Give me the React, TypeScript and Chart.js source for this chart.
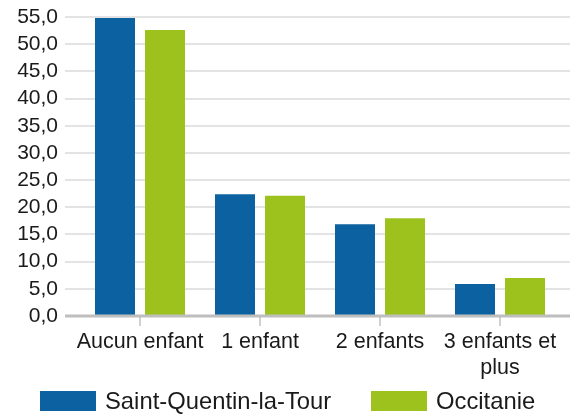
import React, { useEffect, useRef } from "react";
import { Chart, registerables } from "chart.js";

Chart.register(...registerables);

const categories: (string | string[])[] = ["Aucun enfant", "1 enfant", "2 enfants", ["3 enfants et", "plus"]];
const seriesNames = ["Saint-Quentin-la-Tour", "Occitanie"];
const stQuentin = [54.8, 22.4, 16.9, 5.9];
const occitanie = [52.6, 22.1, 18.0, 7.0];
const yTicks = [0, 5, 10, 15, 20, 25, 30, 35, 40, 45, 50, 55];

const BLUE = "#0c62a0";
const GREEN = "#9dc21e";
const COLORS = [BLUE, GREEN];
const FONT = "'Liberation Sans', Arial, sans-serif";

const gridPlugin = {
  id: "customGrid",
  beforeDatasetsDraw(chart: any) {
    const { ctx, scales, width } = chart;
    const y = scales.y;
    const left = 65;
    ctx.save();
    ctx.strokeStyle = "#e3e3e3";
    ctx.lineWidth = 2;
    for (const v of yTicks) {
      if (v === 0) continue;
      const py = Math.round(y.getPixelForValue(v));
      ctx.beginPath();
      ctx.moveTo(left, py);
      ctx.lineTo(width, py);
      ctx.stroke();
    }
    ctx.restore();
  },
  afterDatasetsDraw(chart: any) {
    const { ctx, scales, width } = chart;
    const y = scales.y;
    const x = scales.x;
    const left = 65;
    const py = y.getPixelForValue(0);
    ctx.save();
    ctx.strokeStyle = "#d0d0d0";
    ctx.lineWidth = 2;
    for (let i = 0; i < categories.length; i++) {
      const px = Math.round(x.getPixelForValue(i));
      ctx.beginPath();
      ctx.moveTo(px, py);
      ctx.lineTo(px, py + 10);
      ctx.stroke();
    }
    ctx.strokeStyle = "#bebebe";
    ctx.lineWidth = 3;
    ctx.beginPath();
    ctx.moveTo(left, py);
    ctx.lineTo(width, py);
    ctx.stroke();
    ctx.restore();
  },
};

export default function App() {
  const ref = useRef<HTMLCanvasElement>(null);
  useEffect(() => {
    document.body.style.margin = "0";
    const chart = new Chart(ref.current!, {
      type: "bar",
      data: {
        labels: categories,
        datasets: [
          { label: seriesNames[0], data: stQuentin, backgroundColor: BLUE, borderWidth: 0 },
          { label: seriesNames[1], data: occitanie, backgroundColor: GREEN, borderWidth: 0 },
        ],
      },
      options: {
        animation: false,
        responsive: false,
        devicePixelRatio: 1,
        layout: { padding: { top: 17, right: 10, left: 0, bottom: 29 } },
        datasets: { bar: { categoryPercentage: 100 / 120, barPercentage: 0.8 } },
        scales: {
          x: {
            grid: { display: false, drawTicks: false },
            border: { display: false },
            afterFit(scale: any) {
              scale.height = 70;
              scale.paddingLeft = 0;
              scale.paddingRight = 0;
            },
            ticks: { color: "#1a1a1a", font: { family: FONT, size: 21.5 }, padding: 13, maxRotation: 0, autoSkip: false },
          },
          y: {
            min: 0,
            max: 55,
            afterBuildTicks(scale: any) {
              scale.ticks = yTicks.map((v) => ({ value: v }));
            },
            afterFit(scale: any) {
              scale.width = 80;
              scale.paddingTop = 0;
              scale.paddingBottom = 0;
            },
            grid: { display: false, drawTicks: false },
            border: { display: false },
            ticks: {
              color: "#1a1a1a",
              autoSkip: false,
              font: { family: FONT, size: 21 },
              padding: 22,
              callback: (v: any) => Number(v).toFixed(1).replace(".", ","),
            },
          },
        },
        plugins: {
          legend: { display: false },
          tooltip: { enabled: false },
        },
      },
      plugins: [gridPlugin],
    });
    return () => chart.destroy();
  }, []);
  const legendPos = [40, 371];
  return (
    <div style={{ position: "absolute", left: 0, top: 0, width: 570, height: 415 }}>
      <canvas ref={ref} width={570} height={415} style={{ width: 570, height: 415, display: "block" }} />
      {seriesNames.map((name, i) => (
        <div
          key={name}
          style={{
            position: "absolute",
            left: legendPos[i],
            top: 388,
            height: 26,
            display: "flex",
            alignItems: "center",
            fontFamily: FONT,
            fontSize: 23.8,
            color: "#1a1a1a",
            whiteSpace: "nowrap",
          }}
        >
          <span style={{ display: "inline-block", width: 56, height: 20, background: COLORS[i], marginRight: 9 }} />
          <span style={{ lineHeight: "26px" }}>{name}</span>
        </div>
      ))}
    </div>
  );
}
